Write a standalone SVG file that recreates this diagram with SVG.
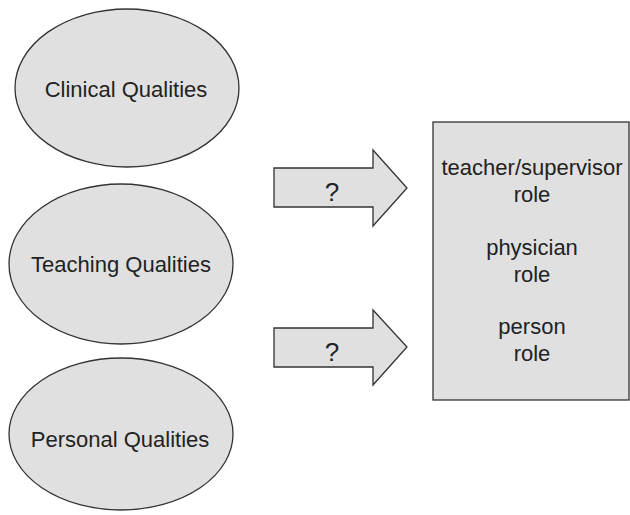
<svg xmlns="http://www.w3.org/2000/svg" width="630" height="515" viewBox="0 0 630 515">
<style>
.shape{fill:#e0e0e0;stroke:#333;stroke-width:1.3}
.lbl{font-family:"Liberation Sans",Arial,sans-serif;font-size:22px;fill:#222;text-anchor:middle}
.q{font-family:"Liberation Sans",Arial,sans-serif;font-size:26px;fill:#222;text-anchor:middle}
</style>
<rect width="630" height="515" fill="#fff"/>
<g id="clinical">
<ellipse class="shape" cx="127" cy="88" rx="112" ry="79"/>
<text class="lbl" x="126" y="97">Clinical Qualities</text>
</g>
<g id="teaching">
<ellipse class="shape" cx="121" cy="264" rx="112" ry="80"/>
<text class="lbl" x="121" y="272">Teaching Qualities</text>
</g>
<g id="personal">
<ellipse class="shape" cx="121" cy="434" rx="112" ry="76"/>
<text class="lbl" x="120" y="447">Personal Qualities</text>
</g>
<g id="roles">
<rect class="shape" x="433" y="122" width="196" height="278"/>
<text class="lbl" x="532" y="175">teacher/supervisor</text>
<text class="lbl" x="532" y="202">role</text>
<text class="lbl" x="532" y="255">physician</text>
<text class="lbl" x="532" y="282">role</text>
<text class="lbl" x="532" y="334">person</text>
<text class="lbl" x="532" y="361">role</text>
</g>
<g id="connectors">
<g id="arrow1">
<polygon class="shape" points="274,168 373,168 373,150 407,188 373,226 373,207 274,207"/>
<text class="q" x="332" y="201">?</text>
</g>
<g id="arrow2">
<polygon class="shape" points="274,328 373,328 373,310 407,347 373,385 373,367 274,367"/>
<text class="q" x="332" y="361">?</text>
</g>
</g>
</svg>
